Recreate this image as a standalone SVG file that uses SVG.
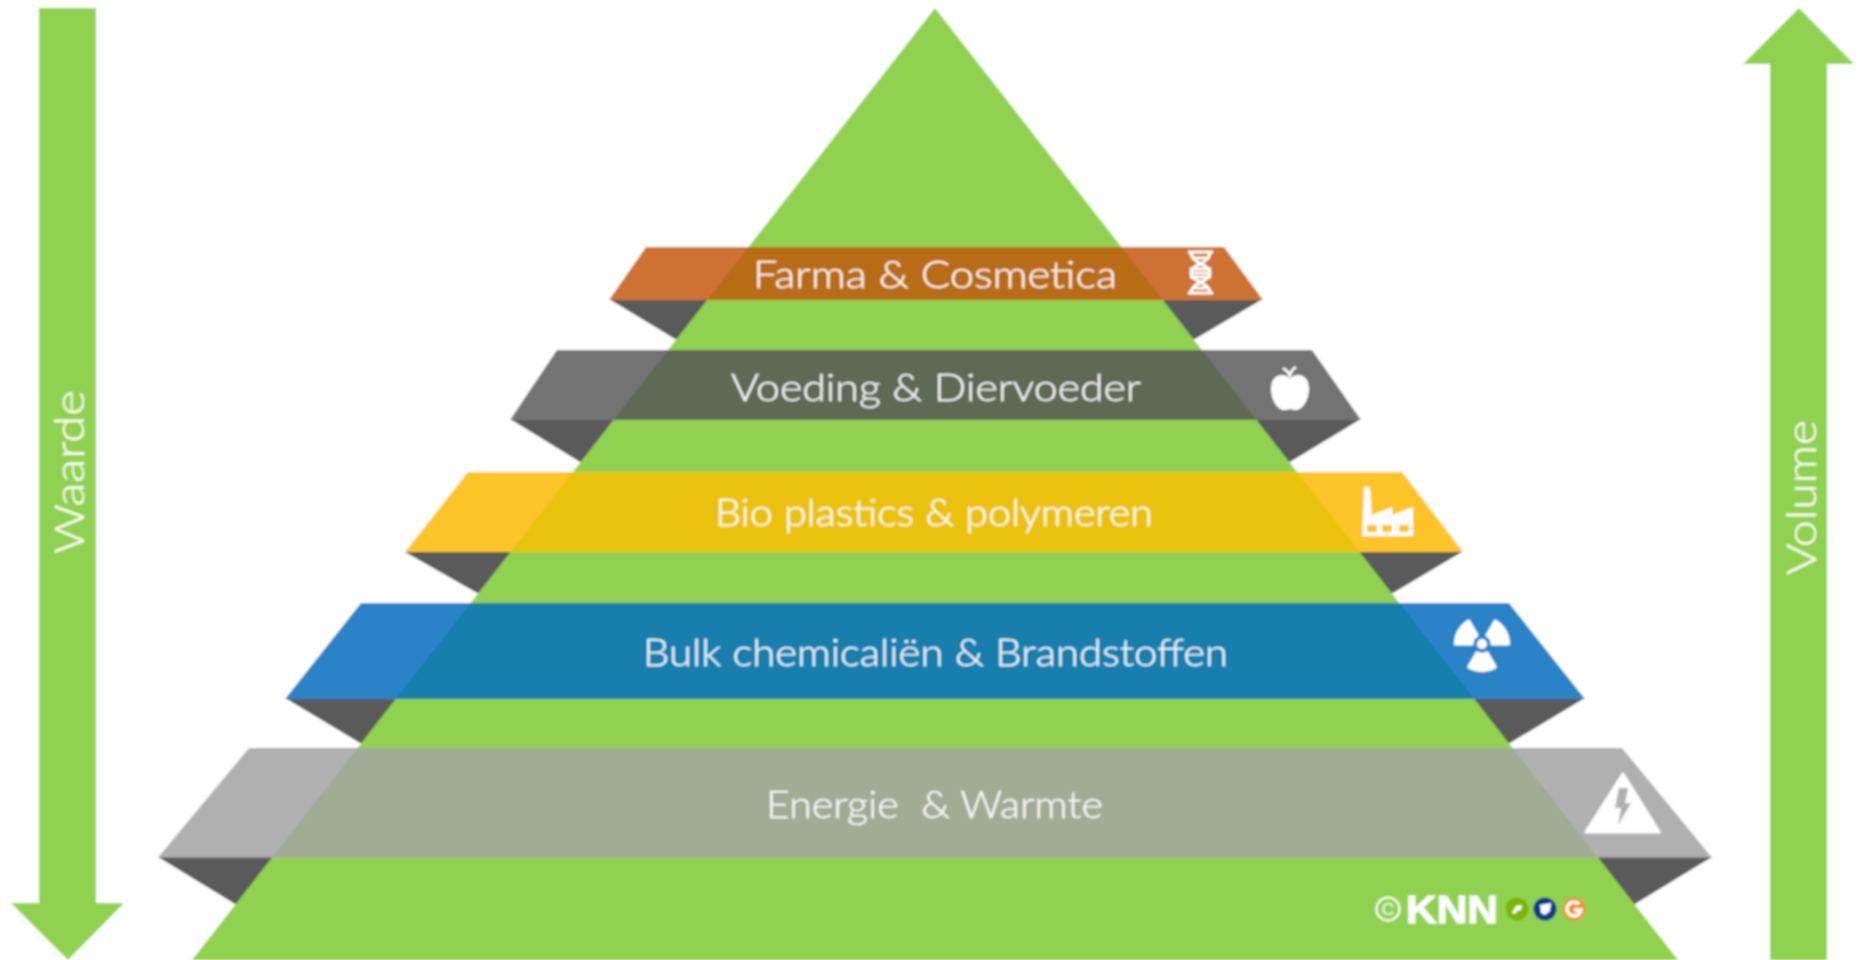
<svg xmlns="http://www.w3.org/2000/svg" width="1859" height="960" viewBox="0 0 1859 960">
<style>
.lbl{font-family:"Lato","Liberation Sans",sans-serif;font-weight:300;font-size:37px;fill:#fff;fill-opacity:.93;stroke:#fff;stroke-width:.3}
.shadow{fill:#5a5a5a}
.arrow{fill:#90d24f}
.ic{fill:#fff}
.blade{fill:#fff;stroke:#fff;stroke-width:3;stroke-linejoin:round}
</style>
<defs>
<clipPath id="pyr"><polygon points="935,8 1678,960 192,960"/></clipPath>
<filter id="soft" x="0" y="0" width="1" height="1" filterUnits="objectBoundingBox"><feGaussianBlur stdDeviation="1"/></filter>
</defs>
<rect width="1859" height="960" fill="#fff"/>
<g filter="url(#soft)">
<rect width="1859" height="960" fill="#fff"/>
<g id="shadows">
<polygon class="shadow" points="609,299 1263,299 1195,339 675,339"/>
<polygon class="shadow" points="510,419 1361,419 1290,462 580,462"/>
<polygon class="shadow" points="405,552 1462,552 1393,593 477,593"/>
<polygon class="shadow" points="285,698 1585,698 1510,743 360,743"/>
<polygon class="shadow" points="158,857 1712,857 1635,904 235,904"/>
</g>
<polygon id="pyramid" points="935,8 1678,960 192,960" fill="#90d24f"/>

<g id="arrow-waarde">
<polygon class="arrow" points="39,8 96,8 96,903 124,903 68,960 11,903 39,903"/>
<text class="lbl" transform="translate(84,554) rotate(-90)" style="font-size:42px" textLength="164" lengthAdjust="spacingAndGlyphs">Waarde</text>
</g>
<g id="arrow-volume">
<polygon class="arrow" points="1799,8 1854,64 1827,64 1827,960 1770,960 1770,64 1743,64"/>
<text class="lbl" transform="translate(1816,575) rotate(-90)" style="font-size:42px" textLength="155" lengthAdjust="spacingAndGlyphs">Volume</text>
</g>

<g id="farma">
<polygon points="646,247 1224,247 1263,300 609,300" fill="#cd7232"/>
<rect x="600" y="247" width="670" height="53" fill="#b96c18" clip-path="url(#pyr)"/>
<text class="lbl" x="753" y="288" textLength="364" lengthAdjust="spacingAndGlyphs">Farma &amp; Cosmetica</text>
<g fill="none" stroke="#fff" stroke-width="3">
<path d="M1191 252C1191 264 1210 264 1210 273C1210 282 1191 282 1191 293"/>
<path d="M1210 252C1210 264 1191 264 1191 273C1191 282 1210 282 1210 293"/>
<path d="M1188 252H1213M1194 258H1207M1190 269H1211M1190 273H1211M1190 277H1211M1194 288H1207M1188 293H1213"/>
</g>
</g>

<g id="voeding">
<polygon points="557,350 1312,350 1361,420 510,420" fill="#737373"/>
<rect x="500" y="350" width="870" height="70" fill="#616957" clip-path="url(#pyr)"/>
<text class="lbl" x="731" y="401" textLength="410" lengthAdjust="spacingAndGlyphs">Voeding &amp; Diervoeder</text>
<path class="ic" d="M1290 378C1282 372 1271 375 1271 389C1271 400 1278 411 1285 410C1288 410 1289 409 1290 409C1291 409 1292 410 1295 410C1302 411 1309 400 1309 389C1309 375 1298 372 1290 378Z"/>
<path fill="none" stroke="#fff" stroke-width="2.6" d="M1290 377C1290 373 1287 371 1283 368M1290 375C1291 371 1293 369 1296 367"/>
</g>

<g id="bioplastics">
<polygon points="468,472 1402,472 1463,552 405,552" fill="#fcc425"/>
<rect x="400" y="472" width="1070" height="80" fill="#eac20c" clip-path="url(#pyr)"/>
<text class="lbl" x="715" y="526" textLength="438" lengthAdjust="spacingAndGlyphs">Bio plastics &amp; polymeren</text>
<path class="ic" d="M1362 536L1364 487H1370L1372 515L1392 507V515L1413 507V536Z"/>
<path fill="#fcc425" d="M1367 525H1377V532H1367ZM1382 525H1392V532H1382ZM1399 525H1409V532H1399Z"/>
</g>

<g id="bulk">
<polygon points="361,603 1509,603 1585,699 285,699" fill="#2a83c7"/>
<rect x="280" y="603" width="1310" height="96" fill="#157fae" clip-path="url(#pyr)"/>
<text class="lbl" x="643" y="666" textLength="585" lengthAdjust="spacingAndGlyphs">Bulk chemicaliën &amp; Brandstoffen</text>
<path class="blade" d="M1472 644L1455.5 644A26.5 26.5 0 0 1 1468.75 621L1477 635.3A10 10 0 0 0 1472 644Z"/>
<path class="blade" d="M1487 635.3L1495.25 621A26.5 26.5 0 0 1 1508.5 644L1492 644A10 10 0 0 0 1487 635.3Z"/>
<path class="blade" d="M1487 652.7L1495.25 667A26.5 26.5 0 0 1 1468.75 667L1477 652.7A10 10 0 0 0 1487 652.7Z"/>
<circle class="ic" cx="1482" cy="644" r="5"/>
</g>

<g id="energie">
<polygon points="249,748 1622,748 1712,857.5 158,857.5" fill="#b0b0b0"/>
<rect x="150" y="748" width="1570" height="109.5" fill="#a2ab96" clip-path="url(#pyr)"/>
<text class="lbl" x="766" y="818" textLength="337" lengthAdjust="spacingAndGlyphs" xml:space="preserve">Energie  &amp; Warmte</text>
<polygon class="ic" points="1623,774 1659,832 1586,832" stroke="#fff" stroke-width="3" stroke-linejoin="round"/>
<polygon fill="#b0b0b0" points="1619,788 1628,788 1625,803 1631,803 1618,825 1621,808 1615,808"/>
</g>

<g id="logo">
<circle cx="1388" cy="909" r="11.5" fill="none" stroke="#fff" stroke-width="2"/>
<text x="1388" y="915" text-anchor="middle" style="font-family:'Liberation Sans',sans-serif;font-size:17px;fill:#fff">C</text>
<text x="1406" y="923" textLength="92" lengthAdjust="spacingAndGlyphs" style="font-family:'Liberation Sans',sans-serif;font-weight:700;font-size:39px;fill:#fff;stroke:#fff;stroke-width:1">KNN</text>
<circle cx="1517" cy="909" r="11.5" fill="#7ab800"/>
<path class="ic" d="M1512 913L1516 906L1522 905L1521 910L1517 911L1515 914Z"/>
<circle cx="1545" cy="909" r="11.5" fill="#0a3a8c"/>
<path class="ic" d="M1540 905L1551 903L1550 911L1545 915L1541 913Z"/>
<circle cx="1574" cy="909" r="11.5" fill="#f0921e"/>
<path fill="none" stroke="#fff" stroke-width="3.4" d="M1579 904A7 7 0 1 0 1581 910H1574"/>
</g>
</g>
</svg>
